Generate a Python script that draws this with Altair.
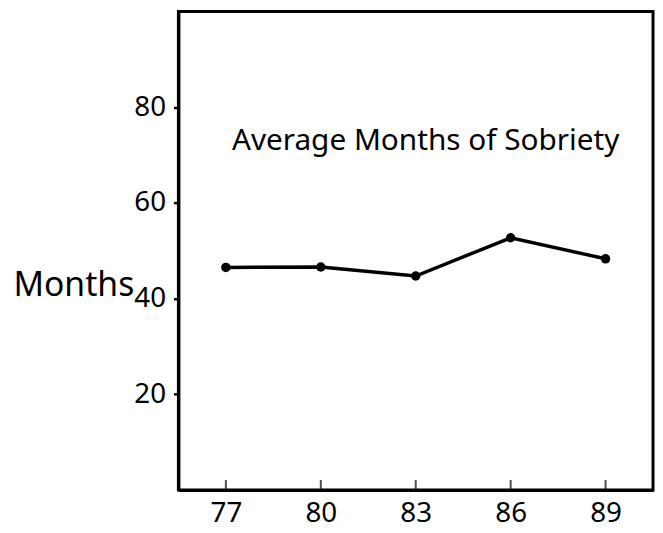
import altair as alt
import pandas as pd

years = [77, 80, 83, 86, 89]
months = [46.5, 46.6, 44.7, 52.7, 48.3]
y_ticks = [20, 40, 60, 80]
title_text = "Average Months of Sobriety"
y_title = "Months"

df = pd.DataFrame({"year": years, "months": months})
tick_df = pd.DataFrame({"year": years})

FONT = "Noto Sans"

x_enc = alt.X(
    "year:Q",
    scale=alt.Scale(domain=[75.5, 90.5], nice=False, zero=False),
    axis=alt.Axis(
        values=years, format="d", title=None, grid=False,
        tickSize=0, labelPadding=10, labelFontSize=28, labelFont=FONT,
        labelColor="black", domainColor="black", domainWidth=3,
    ),
)
y_enc = alt.Y(
    "months:Q",
    scale=alt.Scale(domain=[0, 100], nice=False),
    axis=alt.Axis(
        values=y_ticks, title=y_title, grid=False,
        tickSize=5, tickWidth=2.5, tickColor="black", labelPadding=8,
        labelFontSize=28, labelFont=FONT, labelColor="black",
        domainColor="black", domainWidth=3,
        titleAngle=0, titleAlign="left", titleBaseline="alphabetic",
        titleX=-167, titleY=287, titleFontSize=34, titleFont=FONT,
        titleFontWeight="normal", titleColor="black",
    ),
)

line = alt.Chart(df).mark_line(color="black", strokeWidth=3.5).encode(x=x_enc, y=y_enc)
pts = alt.Chart(df).mark_circle(color="black", size=90, opacity=1).encode(x="year:Q", y="months:Q")
ticks = alt.Chart(tick_df).mark_tick(
    orient="vertical", size=10, thickness=2, yOffset=-5, color="black"
).encode(x="year:Q", y=alt.datum(0))

chart = alt.layer(line, pts, ticks).properties(
    width=479,
    height=483,
    autosize=alt.AutoSizeParams(type="none"),
    padding={"left": 172, "top": 1, "right": 2, "bottom": 40},
    title=alt.TitleParams(
        text=title_text, anchor="middle", baseline="alphabetic", offset=0,
        dy=170, dx=10, fontSize=30, font=FONT, fontWeight="normal", color="black",
    ),
).configure(background="white").configure_view(stroke="black", strokeWidth=3)

chart.save("out.html", embed_options={"renderer": "svg", "actions": False})
